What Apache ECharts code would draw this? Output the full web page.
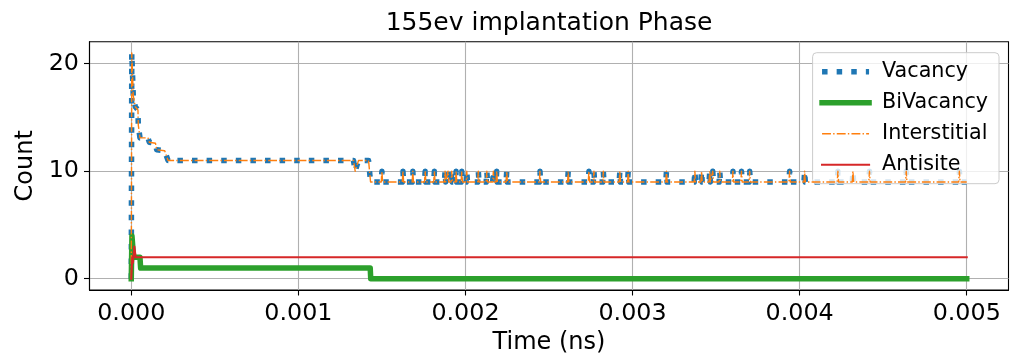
<!DOCTYPE html>
<html>
<head>
<meta charset="utf-8">
<title>155ev implantation Phase</title>
<script src="https://cdn.jsdelivr.net/npm/echarts@6.0.0/dist/echarts.min.js"></script>
<style>
  html, body { margin: 0; padding: 0; background: #ffffff; }
  #chart { width: 1010px; height: 360px; }
</style>
</head>
<body>
<div id="chart"></div>
<script>
// Defect counts over simulated time (ns) during the 155 eV implantation phase.
const timeTicks = [0, 0.001, 0.002, 0.003, 0.004, 0.005];
const countTicks = [0, 10, 20];

const vacancy = [
  [0, 0], [0.000003, 21], [0.000012, 17], [0.000024, 16], [0.00004, 15.7], [0.000042, 14.3],
  [0.000052, 13.1], [0.0001, 13.1], [0.000108, 12.7], [0.000145, 12.6], [0.000152, 12],
  [0.0002, 11.9], [0.00022, 11],
  [0.00133, 11], [0.00134, 10], [0.00136, 11], [0.00142, 11], [0.001432, 9],
  [0.001496, 9], [0.0015, 10], [0.001504, 9],
  [0.001622, 9], [0.001626, 10], [0.00163, 9],
  [0.001681, 9], [0.001685, 10], [0.001689, 9],
  [0.001755, 9], [0.001759, 10], [0.001763, 9],
  [0.00181, 9], [0.001814, 10], [0.001818, 9],
  [0.001874, 9], [0.001878, 10], [0.001882, 9],
  [0.001892, 9], [0.001896, 10], [0.0019, 9],
  [0.001914, 9], [0.001918, 10], [0.001922, 9],
  [0.00194, 9], [0.001944, 10], [0.001948, 9],
  [0.001974, 9], [0.001978, 10], [0.001982, 9],
  [0.002004, 9], [0.002008, 10], [0.002012, 9],
  [0.002073, 9], [0.002077, 10], [0.002081, 9],
  [0.002124, 9], [0.002128, 10], [0.002132, 9],
  [0.002163, 9], [0.002167, 10], [0.002171, 9],
  [0.002183, 9], [0.002187, 10], [0.002191, 9],
  [0.002243, 9], [0.002247, 10], [0.002251, 9],
  [0.002442, 9], [0.002446, 10], [0.00245, 9],
  [0.002611, 9], [0.002615, 10], [0.002619, 9],
  [0.002735, 9], [0.002739, 10], [0.002743, 9],
  [0.002765, 9], [0.002769, 10], [0.002773, 9],
  [0.002821, 9], [0.002825, 10], [0.002829, 9],
  [0.00292, 9], [0.002924, 10], [0.002928, 9],
  [0.00297, 9], [0.002974, 10], [0.002978, 9],
  [0.003199, 9], [0.003203, 10], [0.003207, 9],
  [0.003369, 9], [0.003373, 10], [0.003377, 9],
  [0.003409, 9], [0.003413, 10], [0.003417, 9],
  [0.003458, 9], [0.003462, 10], [0.003466, 9],
  [0.003476, 9], [0.00348, 10], [0.003484, 9],
  [0.003518, 9], [0.003522, 10], [0.003526, 9],
  [0.003597, 9], [0.003601, 10], [0.003605, 9],
  [0.003648, 9], [0.003652, 10], [0.003656, 9],
  [0.003697, 9], [0.003701, 10], [0.003705, 9],
  [0.003936, 9], [0.00394, 10], [0.003944, 9],
  [0.004026, 9], [0.00403, 10], [0.004034, 9],
  [0.004225, 9], [0.004229, 10], [0.004233, 9],
  [0.004315, 9], [0.004319, 10], [0.004323, 9],
  [0.004414, 9], [0.004418, 10], [0.004422, 9],
  [0.004634, 9], [0.004638, 10], [0.004642, 9],
  [0.004952, 9], [0.004956, 10], [0.00496, 9],
  [0.005, 9]
];

// Interstitials track the vacancies one for one (Frenkel pairs).
const interstitial = vacancy;

const biVacancy = [
  [0, 0], [0.000004, 4], [0.000014, 2], [0.000052, 2], [0.000056, 1],
  [0.00143, 1], [0.001433, 0], [0.005, 0]
];

const antisite = [
  [0, 0], [0.000006, 2], [0.00001, 1.5], [0.000018, 3], [0.000026, 2], [0.005, 2]
];

const FONT = 'DejaVu Sans';

const chart = echarts.init(document.getElementById('chart'), null, { renderer: 'canvas' });

chart.setOption({
  animation: false,
  backgroundColor: '#ffffff',
  title: {
    text: '155ev implantation Phase',
    left: 549,
    top: 11,
    padding: 0,
    textAlign: 'center',
    textStyle: { fontFamily: FONT, fontSize: 25, fontWeight: 'normal', color: '#000' }
  },
  grid: {
    left: 89.5, right: 1.5, top: 41.7, bottom: 67.7,
    show: true, borderColor: '#000', borderWidth: 1.1, backgroundColor: 'transparent',
    containLabel: false
  },
  legend: {
    orient: 'vertical',
    right: 11,
    top: 52.7,
    itemWidth: 47,
    itemHeight: 14,
    itemGap: 9,
    padding: [8, 11, 8, 6.7],
    backgroundColor: 'rgba(255,255,255,0.8)',
    borderColor: '#cccccc',
    borderWidth: 1,
    borderRadius: 4,
    // legend keys show only the line, no marker
    itemStyle: { color: 'rgba(0,0,0,0)', borderWidth: 0, opacity: 0 },
    lineStyle: { width: 'inherit' },
    textStyle: {
      fontFamily: FONT, fontSize: 20.7, color: '#000', lineHeight: 22,
      padding: [0, 0, 0, 8]
    },
    data: ['Vacancy', 'BiVacancy', 'Interstitial', 'Antisite']
  },
  xAxis: {
    type: 'value',
    min: -0.00025,
    max: 0.00525,
    name: 'Time (ns)',
    nameLocation: 'middle',
    nameGap: 41,
    nameTextStyle: { fontFamily: FONT, fontSize: 24, color: '#000' },
    axisLine: { show: true, onZero: false, lineStyle: { color: '#000', width: 1.1 } },
    axisTick: { show: true, inside: false, length: 5.5, customValues: timeTicks,
                lineStyle: { color: '#000', width: 1.1 } },
    axisLabel: { customValues: timeTicks, margin: 12, fontFamily: FONT, fontSize: 23.8, color: '#000',
                 formatter: v => v.toFixed(3) },
    splitLine: { show: true, lineStyle: { color: '#b0b0b0', width: 1.1 } }
  },
  yAxis: {
    type: 'value',
    min: -1.05,
    max: 22.05,
    name: 'Count',
    nameLocation: 'middle',
    nameRotate: 90,
    nameGap: 43,
    nameTextStyle: { fontFamily: FONT, fontSize: 24, color: '#000' },
    axisLine: { show: true, onZero: false, lineStyle: { color: '#000', width: 1.1 } },
    axisTick: { show: true, inside: false, length: 5.5, customValues: countTicks,
                lineStyle: { color: '#000', width: 1.1 } },
    axisLabel: { customValues: countTicks, margin: 10.5, fontFamily: FONT, fontSize: 23.8, color: '#000',
                 formatter: v => String(Math.round(v)) },
    splitLine: { show: true, lineStyle: { color: '#b0b0b0', width: 1.1 } }
  },
  series: [
    {
      name: 'Vacancy', type: 'line', data: vacancy, symbol: 'none', showSymbol: false,
      color: '#1f77b4', z: 2,
      lineStyle: { color: '#1f77b4', width: 5.5, type: [5.5, 9.1], cap: 'butt', join: 'round' }
    },
    {
      name: 'BiVacancy', type: 'line', data: biVacancy, symbol: 'none', showSymbol: false,
      color: '#2ca02c', z: 3,
      lineStyle: { color: '#2ca02c', width: 5.5, type: 'solid', cap: 'square', join: 'round' }
    },
    {
      name: 'Interstitial', type: 'line', data: interstitial, symbol: 'none', showSymbol: false,
      color: '#ff7f0e', z: 4,
      lineStyle: { color: '#ff7f0e', width: 1.4, type: [8.9, 2.2, 1.4, 2.2], cap: 'butt', join: 'round' }
    },
    {
      name: 'Antisite', type: 'line', data: antisite, symbol: 'none', showSymbol: false,
      color: '#d62728', z: 5,
      lineStyle: { color: '#d62728', width: 2.1, type: 'solid', cap: 'square', join: 'round' }
    }
  ]
});
</script>
</body>
</html>
